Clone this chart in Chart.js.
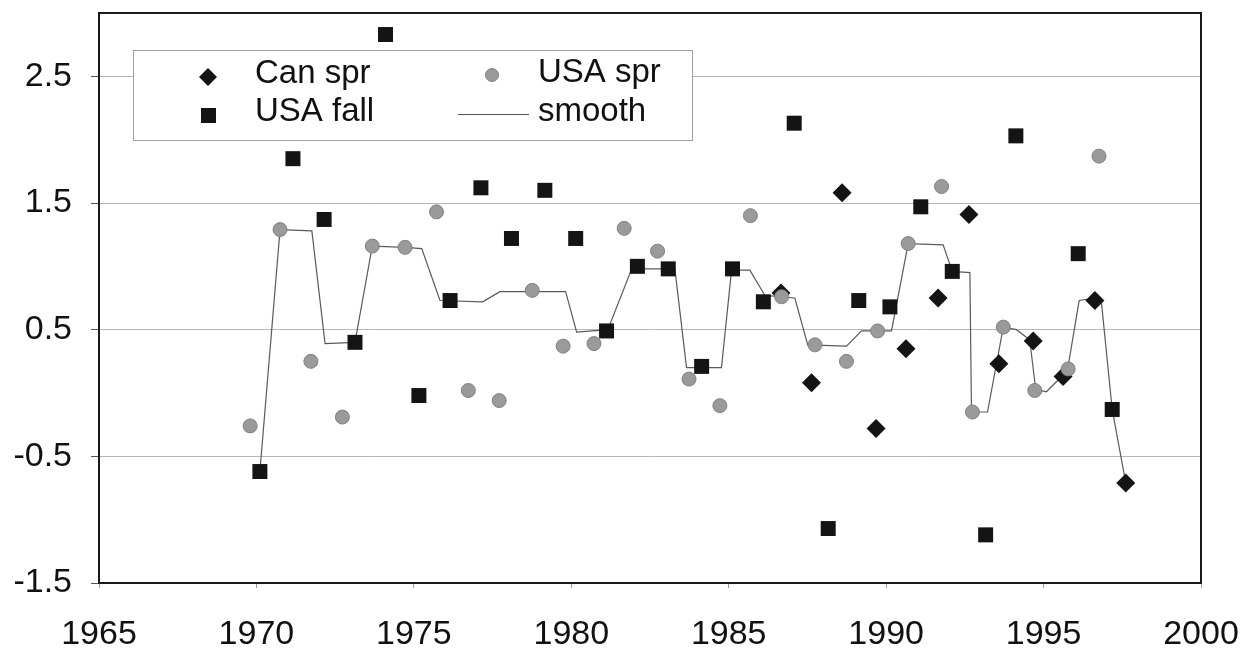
<!DOCTYPE html>
<html>
<head>
<meta charset="utf-8">
<script src="https://cdn.jsdelivr.net/npm/chart.js@4/dist/chart.umd.min.js"></script>
<style>
html,body{margin:0;padding:0;background:#fff;}
#wrap{width:1253px;height:651px;position:relative;}
</style>
</head>
<body>
<div id="wrap"><canvas id="c" width="1253" height="651"></canvas></div>
<script>
// ---- tick labels ----
const xTickLabels = [1965, 1970, 1975, 1980, 1985, 1990, 1995, 2000];
const yTickLabels = [-1.5, -0.5, 0.5, 1.5, 2.5];
const seriesNames = ['Can spr', 'USA fall', 'USA spr', 'smooth'];

// ---- series: Can spr (diamonds) ----
const canSprYears  = [1986.66, 1987.63, 1988.60, 1989.68, 1990.63, 1991.65, 1992.63, 1993.58, 1994.67, 1995.62, 1996.63, 1997.61];
const canSprValues = [0.79, 0.08, 1.58, -0.28, 0.35, 0.75, 1.41, 0.23, 0.41, 0.13, 0.73, -0.71];

// ---- series: USA fall (squares) ----
const usaFallYears  = [1970.11, 1971.16, 1972.15, 1973.13, 1974.10, 1975.16, 1976.15, 1977.13, 1978.10, 1979.16, 1980.14, 1981.12, 1982.10, 1983.08, 1984.14, 1985.12, 1986.10, 1987.08, 1988.16, 1989.13, 1990.12, 1991.10, 1992.10, 1993.16, 1994.12, 1996.10, 1997.18];
const usaFallValues = [-0.62, 1.85, 1.37, 0.40, 2.83, -0.02, 0.73, 1.62, 1.22, 1.60, 1.22, 0.49, 1.00, 0.98, 0.21, 0.98, 0.72, 2.13, -1.07, 0.73, 0.68, 1.47, 0.96, -1.12, 2.03, 1.10, -0.13];

// ---- series: USA spr (grey circles) ----
const usaSprYears  = [1969.80, 1970.75, 1971.73, 1972.73, 1973.68, 1974.72, 1975.72, 1976.73, 1977.71, 1978.76, 1979.74, 1980.72, 1981.68, 1982.74, 1983.74, 1984.72, 1985.69, 1986.68, 1987.74, 1988.74, 1989.73, 1990.70, 1991.76, 1992.74, 1993.72, 1994.72, 1995.78, 1996.76];
const usaSprValues = [-0.26, 1.29, 0.25, -0.19, 1.16, 1.15, 1.43, 0.02, -0.06, 0.81, 0.37, 0.39, 1.30, 1.12, 0.11, -0.10, 1.40, 0.76, 0.38, 0.25, 0.49, 1.18, 1.63, -0.15, 0.52, 0.02, 0.19, 1.87];

// ---- series: smooth (line) ----
const smoothYears  = [1970.11, 1970.75, 1971.76, 1972.18, 1973.13, 1973.68, 1974.72, 1975.25, 1975.83, 1977.19, 1977.73, 1979.82, 1980.17, 1981.16, 1981.92, 1983.29, 1983.66, 1984.77, 1985.09, 1985.67, 1986.15, 1987.10, 1987.51, 1988.74, 1989.22, 1990.17, 1990.70, 1991.81, 1992.10, 1992.66, 1992.71, 1993.22, 1993.72, 1994.14, 1994.56, 1994.75, 1995.09, 1995.57, 1995.78, 1996.13, 1996.36, 1996.84, 1997.18, 1997.61];
const smoothValues = [-0.62, 1.29, 1.28, 0.39, 0.40, 1.16, 1.15, 1.14, 0.73, 0.72, 0.80, 0.80, 0.48, 0.50, 0.98, 0.98, 0.20, 0.20, 0.97, 0.97, 0.77, 0.75, 0.38, 0.37, 0.49, 0.49, 1.18, 1.17, 0.96, 0.95, -0.15, -0.15, 0.52, 0.50, 0.42, 0.03, 0.01, 0.13, 0.21, 0.73, 0.74, 0.71, -0.13, -0.71];

const pts = (xs, ys) => xs.map((x, i) => ({ x: x, y: ys[i] }));

const FONT = '"Liberation Sans", Arial, Helvetica, sans-serif';

const frame = {
  id: 'frame',
  afterDraw(chart) {
    const a = chart.chartArea, ctx = chart.ctx;
    ctx.save();
    ctx.strokeStyle = '#1a1a1a';
    ctx.lineWidth = 2;
    ctx.strokeRect(a.left, a.top, a.right - a.left, a.bottom - a.top);
    ctx.restore();
  }
};

const boxLegend = {
  id: 'boxLegend',
  afterDatasetsDraw(chart) {
    const ctx = chart.ctx;
    ctx.save();
    ctx.fillStyle = '#ffffff';
    ctx.fillRect(133, 50, 559, 90);
    ctx.strokeStyle = '#a0a0a0';
    ctx.lineWidth = 1;
    ctx.strokeRect(133.5, 50.5, 559, 90);
    ctx.font = '33px ' + FONT;
    ctx.textBaseline = 'alphabetic';
    ctx.textAlign = 'left';
    // Can spr diamond
    ctx.fillStyle = '#141414';
    ctx.beginPath();
    ctx.moveTo(208, 68); ctx.lineTo(217, 77); ctx.lineTo(208, 86); ctx.lineTo(199, 77); ctx.closePath();
    ctx.fill();
    ctx.fillStyle = '#111';
    ctx.fillText(seriesNames[0], 255, 83);
    // USA fall square
    ctx.fillStyle = '#141414';
    ctx.fillRect(201, 108, 15, 15);
    ctx.fillStyle = '#111';
    ctx.fillText(seriesNames[1], 255, 121);
    // USA spr circle
    ctx.fillStyle = '#9a9a9a';
    ctx.strokeStyle = '#808080';
    ctx.beginPath(); ctx.arc(492, 75, 6.5, 0, Math.PI * 2); ctx.fill(); ctx.stroke();
    ctx.fillStyle = '#111';
    ctx.fillText(seriesNames[2], 538, 82);
    // smooth line
    ctx.strokeStyle = '#555';
    ctx.lineWidth = 1.2;
    ctx.beginPath(); ctx.moveTo(458, 114.5); ctx.lineTo(529, 114.5); ctx.stroke();
    ctx.fillText(seriesNames[3], 538, 121);
    ctx.restore();
  }
};

function noPad(axis) {
  axis.paddingTop = 0; axis.paddingBottom = 0;
  axis.paddingLeft = 0; axis.paddingRight = 0;
}

new Chart(document.getElementById('c'), {
  type: 'scatter',
  data: {
    datasets: [
      {
        label: seriesNames[2], data: pts(usaSprYears, usaSprValues), order: 1,
        pointStyle: 'circle', pointRadius: 7, pointBackgroundColor: '#9a9a9a',
        pointBorderColor: '#808080', pointBorderWidth: 1, showLine: false
      },
      {
        label: seriesNames[0], data: pts(canSprYears, canSprValues), order: 2,
        pointStyle: 'rectRot', pointRadius: 9.5, pointBackgroundColor: '#141414',
        pointBorderColor: '#141414', pointBorderWidth: 0, showLine: false
      },
      {
        label: seriesNames[1], data: pts(usaFallYears, usaFallValues), order: 3,
        pointStyle: 'rect', pointRadius: 10.6, pointBackgroundColor: '#141414',
        pointBorderColor: '#141414', pointBorderWidth: 0, showLine: false
      },
      {
        label: seriesNames[3], data: pts(smoothYears, smoothValues), order: 4,
        showLine: true, borderColor: '#5a5a5a', borderWidth: 1.2, pointRadius: 0,
        tension: 0, fill: false
      }
    ]
  },
  options: {
    responsive: false,
    animation: false,
    devicePixelRatio: 1,
    layout: { padding: { top: 13, right: 52, left: 0, bottom: 0 } },
    plugins: { legend: { display: false }, tooltip: { enabled: false } },
    scales: {
      x: {
        type: 'linear', min: 1965, max: 2000,
        afterBuildTicks: (axis) => { axis.ticks = xTickLabels.map(v => ({ value: v })); },
        afterFit: (axis) => { axis.height = 68; noPad(axis); },
        grid: { drawOnChartArea: false, drawTicks: true, tickLength: 5, tickColor: '#999', color: '#999' },
        border: { display: true, color: '#1a1a1a', width: 2 },
        ticks: { color: '#111', font: { family: FONT, size: 34 }, padding: 26, maxRotation: 0, autoSkip: false,
                 callback: (v) => String(v) }
      },
      y: {
        type: 'linear', min: -1.5, max: 3.0,
        afterBuildTicks: (axis) => { axis.ticks = yTickLabels.map(v => ({ value: v })); },
        afterFit: (axis) => { axis.width = 99; noPad(axis); },
        grid: { drawOnChartArea: true, drawTicks: true, tickLength: 8, color: '#b8b8b8', tickColor: '#555', lineWidth: 1 },
        border: { display: true, color: '#1a1a1a', width: 2 },
        ticks: { color: '#111', font: { family: FONT, size: 34 }, padding: 19, autoSkip: false,
                 callback: (v) => Number(v).toFixed(1) }
      }
    }
  },
  plugins: [boxLegend, frame]
});
</script>
</body>
</html>
